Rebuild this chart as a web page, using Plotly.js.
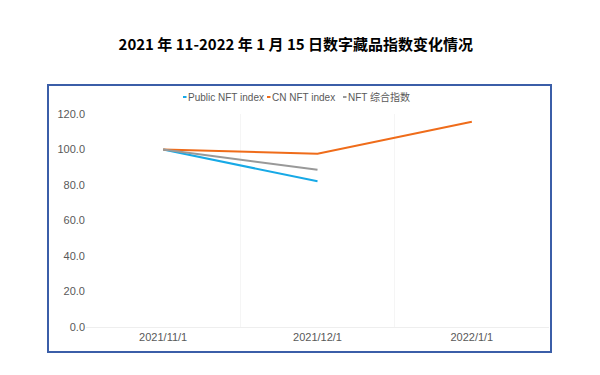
<!DOCTYPE html>
<html>
<head>
<meta charset="utf-8">
<script src="https://cdn.plot.ly/plotly-3.0.1.min.js"></script>
<style>html,body{margin:0;padding:0;background:#fff;}#chart{width:600px;height:375px;}</style>
</head>
<body>
<div id="chart"></div>
<script>
const categories = ["2021/11/1", "2021/12/1", "2022/1/1"];
const publicNFT = [100, 82.1, null];
const cnNFT = [100, 97.6, 115.6];
const compositeNFT = [100, 88.6, null];
const seriesNames = ["Public NFT index", "CN NFT index", "NFT 综合指数"];
const seriesColors = ['#17a9e6', '#ef6c1a', '#999999'];
const yTicks = [0, 20, 40, 60, 80, 100, 120];

const seriesData = [publicNFT, cnNFT, compositeNFT];
const traces = seriesData.map((ys, i) => ({
  x: categories, y: ys, name: seriesNames[i], type: 'scatter', mode: 'lines',
  line: {color: seriesColors[i], width: 2}
}));

// plot-area geometry (pixels) for placing the custom legend
const M = {l: 86, r: 51, t: 114, b: 48};
const PW = 600 - M.l - M.r, PH = 375 - M.t - M.b;
const px2x = p => (p - M.l) / PW;
const py2y = p => (375 - M.b - p) / PH;
const legendStarts = [183, 267, 343];
const legendY = py2y(97);

const annotations = seriesNames.map((n, i) => ({
  text: n, xref: 'paper', yref: 'paper', x: px2x(legendStarts[i] + 4), y: legendY,
  xanchor: 'left', yanchor: 'middle', showarrow: false, borderpad: 0,
  font: {size: 10, color: '#595959'}
}));
const legendShapes = seriesColors.map((c, i) => ({
  type: 'line', xref: 'paper', yref: 'paper', x0: px2x(legendStarts[i]), x1: px2x(legendStarts[i] + 3.5),
  y0: legendY, y1: legendY, line: {color: c, width: 2}
}));

const layout = {
  width: 600, height: 375,
  margin: M,
  paper_bgcolor: '#ffffff', plot_bgcolor: '#ffffff',
  font: {family: 'Liberation Sans, Arial, "Noto Sans CJK SC", sans-serif', color: '#595959', size: 11},
  title: {text: '<b>2021 年 11-2022 年 1 月 15 日数字藏品指数变化情况</b>',
    x: 0.493, xref: 'container', xanchor: 'center', y: 0.88, yref: 'container', yanchor: 'middle',
    font: {family: '"Noto Sans CJK SC", sans-serif', size: 15, color: '#000000'}},
  showlegend: false,
  annotations: annotations,
  xaxis: {type: 'category', range: [-0.5, 2.5], tickson: 'boundaries', showgrid: true,
    gridcolor: '#f5f5f5', gridwidth: 1, showline: true, linecolor: '#eeeeee', ticks: '',
    tickfont: {size: 11, color: '#595959'}, fixedrange: true},
  yaxis: {range: [0, 120], tickvals: yTicks, tickformat: '.1f', showgrid: false, zeroline: false,
    showline: false, ticks: '', ticklen: 0, tickfont: {size: 11, color: '#595959'}, fixedrange: true},
  shapes: [
    {type: 'rect', xref: 'paper', yref: 'paper', x0: px2x(48), x1: px2x(551), y0: py2y(352), y1: py2y(85),
     line: {color: '#3b5ea8', width: 2}, fillcolor: 'rgba(0,0,0,0)', layer: 'below'}
  ].concat(legendShapes)
};

Plotly.newPlot('chart', traces, layout, {displayModeBar: false, staticPlot: true});
</script>
</body>
</html>
